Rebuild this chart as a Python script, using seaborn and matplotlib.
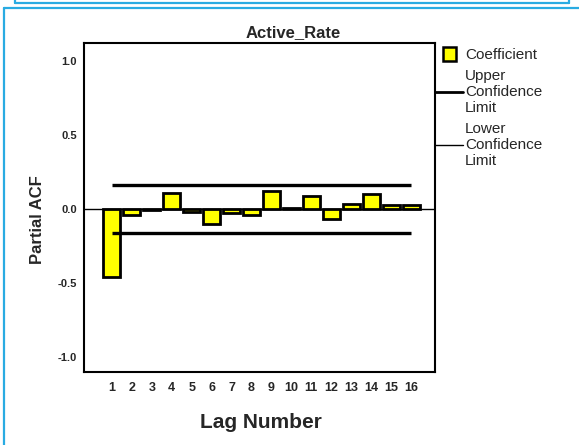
import numpy as np
import pandas as pd
import seaborn as sns
import matplotlib.pyplot as plt
from matplotlib.patches import Rectangle
from matplotlib.lines import Line2D
from matplotlib.legend_handler import HandlerPatch

sns.set_style("white")
plt.rcParams['font.family'] = ['Liberation Sans', 'DejaVu Sans']

# partial autocorrelations
lags = [str(i) for i in range(1, 17)]
pacf = [-0.46, -0.04, -0.01, 0.11, -0.02, -0.10, -0.03, -0.04,
        0.12, 0.01, 0.09, -0.07, 0.035, 0.10, 0.03, 0.03]
upper_limit = [0.16, 0.16, 0.16, 0.16, 0.16, 0.16, 0.16, 0.16,
               0.16, 0.16, 0.16, 0.16, 0.16, 0.16, 0.16, 0.16]
lower_limit = [-0.165, -0.165, -0.165, -0.165, -0.165, -0.165, -0.165, -0.165,
               -0.165, -0.165, -0.165, -0.165, -0.165, -0.165, -0.165, -0.165]
y_ticks = [-1.0, -0.5, 0.0, 0.5, 1.0]

df = pd.DataFrame({"lag": lags, "pacf": pacf})

fig = plt.figure(figsize=(5.79, 4.45), dpi=100)
ax = fig.add_axes([84 / 579, 1 - 372 / 445, 351 / 579, 329 / 445])

sns.barplot(data=df, x="lag", y="pacf", color="#FFFF00", saturation=1,
            edgecolor="black", linewidth=2.0, width=0.85, ax=ax)

pos = np.arange(len(lags))
ax.plot(pos, upper_limit, color="black", lw=2.4, solid_capstyle="butt")
ax.plot(pos, lower_limit, color="black", lw=2.4, solid_capstyle="butt")
ax.axhline(0, color="black", lw=1.0, zorder=0.5)

ax.set_xlim(-1.4, 16.2)
ax.set_ylim(-1.1, 1.12)
ax.set_yticks(y_ticks)
ax.set_yticklabels(["%.1f" % v for v in y_ticks], fontsize=8, fontweight="bold")
ax.set_xticks(pos)
ax.set_xticklabels(lags, fontsize=9, fontweight="bold")
ax.tick_params(axis="both", direction="out", color="black", width=1.4)
ax.tick_params(axis="y", length=4, pad=1)
ax.tick_params(axis="x", length=5, pad=2)
for s in ax.spines.values():
    s.set_color("black")
    s.set_linewidth(1.5)

ax.set_xlabel("Lag Number", fontsize=15, fontweight="bold")
ax.set_ylabel("Partial ACF", fontsize=12, fontweight="bold")
ax.xaxis.set_label_coords(0.504, -0.125)
ax.yaxis.set_label_coords(-0.112, 0.462)
ax.set_title("Active_Rate", x=0.595, pad=4, fontsize=12, fontweight="bold")


def small_box(legend, orig_handle, xdescent, ydescent, width, height, fontsize):
    return Rectangle((-xdescent + 0.3 * width, -ydescent + height / 2 - 5),
                     0.45 * width, 10)


handles = [Rectangle((0, 0), 1, 1, facecolor="#FFFF00", edgecolor="black", lw=1.8),
           Line2D([], [], color="black", lw=2.0),
           Line2D([], [], color="black", lw=1.0)]
labels = ["Coefficient", "Upper\nConfidence\nLimit", "Lower\nConfidence\nLimit"]
ax.legend(handles, labels, loc="upper left", bbox_to_anchor=(1.0, 0.985),
          frameon=False, fontsize=11, borderpad=0, borderaxespad=0,
          handlelength=1.8, handletextpad=0.15, labelspacing=0.45,
          handler_map={Rectangle: HandlerPatch(patch_func=small_box)})

# blue frame around the output
blue = "#29ABE2"
W, H = 579, 445
fig.add_artist(Line2D([4 / W, 4 / W], [0, 1 - 8 / H], color=blue, lw=1.6))
fig.add_artist(Line2D([4 / W, 1], [1 - 8 / H, 1 - 8 / H], color=blue, lw=1.6))
fig.add_artist(Line2D([15 / W, 569 / W], [1 - 3 / H, 1 - 3 / H], color=blue, lw=1.6))
fig.add_artist(Line2D([15 / W, 15 / W], [1 - 3 / H, 1], color=blue, lw=1.6))
fig.add_artist(Line2D([569 / W, 569 / W], [1 - 3 / H, 1], color=blue, lw=1.6))

fig.savefig("out.png", dpi=100)
